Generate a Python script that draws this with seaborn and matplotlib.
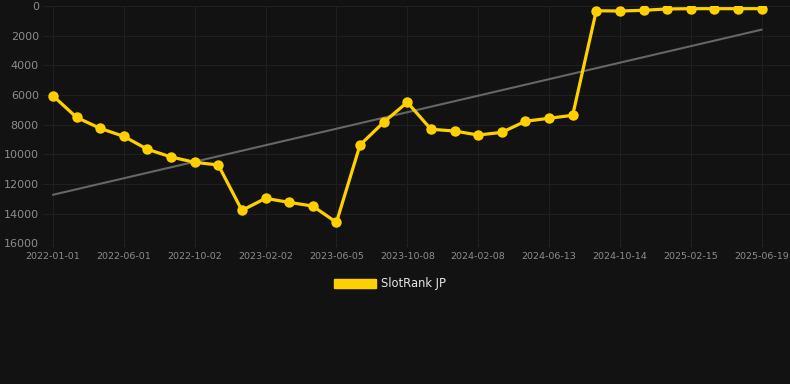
import numpy as np
import pandas as pd
import matplotlib
matplotlib.use("Agg")
import matplotlib.pyplot as plt
from matplotlib.patches import Patch
import seaborn as sns

# rank values (lower = better, axis inverted)
rank = [6050, 7510, 8250, 8790, 9660, 10180, 10540, 10720,
        13780, 12970, 13240, 13490, 14590, 9370, 7840, 6490,
        8310, 8430, 8700, 8520, 7770, 7570, 7370, 320,
        340, 290, 200, 180, 180, 180, 180]
tick_labels = ['2022-01-01', '2022-06-01', '2022-10-02', '2023-02-02',
               '2023-06-05', '2023-10-08', '2024-02-08', '2024-06-13',
               '2024-10-14', '2025-02-15', '2025-06-19']
y_ticks = [0, 2000, 4000, 6000, 8000, 10000, 12000, 14000, 16000]
series_name = 'SlotRank JP'

bg = '#121212'
gold = '#FFD000'

df = pd.DataFrame({'idx': np.arange(len(rank)), 'rank': rank})

# linear trend over the series
coef = np.polyfit(df['idx'], df['rank'], 1)
df['trend'] = np.polyval(coef, df['idx'])

sns.set_theme(style='dark')
plt.rcParams['font.family'] = ['DejaVu Sans']

fig = plt.figure(figsize=(7.9, 3.84), dpi=100, facecolor=bg)
ax = fig.add_axes([43 / 790, 1 - 243.3 / 384, 747 / 790, 237.3 / 384])
ax.set_facecolor(bg)

sns.lineplot(data=df, x='idx', y='trend', ax=ax, color='#666666', linewidth=1.5)
sns.lineplot(data=df, x='idx', y='rank', ax=ax, color=gold, linewidth=2.3,
             marker='o', markersize=7.5, markeredgewidth=0, markeredgecolor=gold)

ax.set_xlim(-0.42, 31.2)
ax.set_ylim(16000, 0)
ax.set_yticks(y_ticks)
ax.set_yticklabels([str(v) for v in y_ticks])
ax.set_xticks(np.arange(0, len(rank), 3))
ax.set_xticklabels(tick_labels)

ax.grid(True, color='#1f1f1f', linewidth=0.8)
for s in ax.spines.values():
    s.set_visible(False)
ax.tick_params(axis='y', length=0, pad=3, labelsize=8, labelcolor='#8c8c8c')
ax.tick_params(axis='x', length=3, width=0.8, color='#262626', pad=3,
               labelsize=6.8, labelcolor='#8c8c8c', bottom=True)
ax.set_xlabel('')
ax.set_ylabel('')

fig.legend(handles=[Patch(facecolor=gold, edgecolor=gold, label=series_name)],
           loc='center', bbox_to_anchor=(0.494, 1 - 284 / 384), frameon=False,
           fontsize=8.3, labelcolor='#e6e6e6', handlelength=3.6, handleheight=0.9,
           handletextpad=0.5)

fig.savefig('out.png', dpi=100, facecolor=bg)
